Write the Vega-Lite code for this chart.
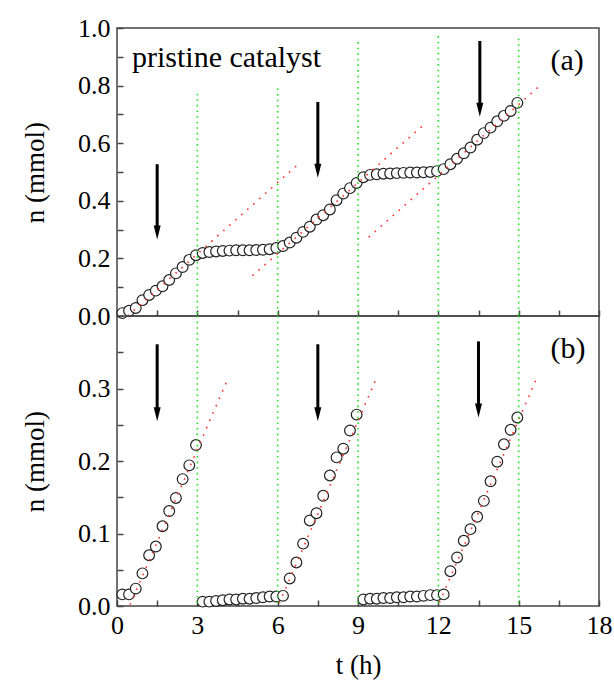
{
  "$schema": "https://vega.github.io/schema/vega-lite/v6.json",
  "background": "white",
  "padding": {"left": 20, "top": 14, "right": 0, "bottom": 10},
  "spacing": 0,
  "bounds": "flush",
  "config": {
    "view": {"stroke": "#444", "strokeWidth": 1.5},
    "font": "Liberation Serif",
    "axis": {
      "labelFont": "Liberation Serif", "labelFontSize": 26, "labelColor": "black",
      "titleFont": "Liberation Serif", "titleFontSize": 27, "titleFontWeight": "normal", "titleColor": "black",
      "tickColor": "#444", "tickSize": -6, "tickWidth": 1.5, "domain": false, "grid": false,
      "labelFlush": false, "labelOverlap": false
    }
  },
  "datasets": {
    "circlesTop": [
      {"t":0.2,"n":0.01},{"t":0.45,"n":0.018},{"t":0.7,"n":0.028},{"t":0.95,"n":0.055},{"t":1.2,"n":0.073},{"t":1.45,"n":0.088},{"t":1.7,"n":0.103},{"t":1.95,"n":0.125},{"t":2.2,"n":0.148},{"t":2.45,"n":0.17},{"t":2.7,"n":0.195},{"t":2.95,"n":0.211},
      {"t":3.2,"n":0.219},{"t":3.45,"n":0.222},{"t":3.7,"n":0.224},{"t":3.95,"n":0.226},{"t":4.2,"n":0.227},{"t":4.45,"n":0.228},{"t":4.7,"n":0.228},{"t":4.95,"n":0.228},{"t":5.2,"n":0.229},{"t":5.45,"n":0.23},{"t":5.7,"n":0.232},{"t":5.95,"n":0.236},
      {"t":6.2,"n":0.243},{"t":6.45,"n":0.255},{"t":6.7,"n":0.272},{"t":6.95,"n":0.292},{"t":7.2,"n":0.31},{"t":7.45,"n":0.335},{"t":7.7,"n":0.35},{"t":7.95,"n":0.37},{"t":8.2,"n":0.402},{"t":8.45,"n":0.425},{"t":8.7,"n":0.444},{"t":8.95,"n":0.462},
      {"t":9.2,"n":0.482},{"t":9.45,"n":0.49},{"t":9.7,"n":0.492},{"t":9.95,"n":0.494},{"t":10.2,"n":0.495},{"t":10.45,"n":0.496},{"t":10.7,"n":0.497},{"t":10.95,"n":0.498},{"t":11.2,"n":0.498},{"t":11.45,"n":0.499},{"t":11.7,"n":0.5},{"t":11.95,"n":0.503},
      {"t":12.2,"n":0.51},{"t":12.45,"n":0.527},{"t":12.7,"n":0.546},{"t":12.95,"n":0.565},{"t":13.2,"n":0.585},{"t":13.45,"n":0.612},{"t":13.7,"n":0.635},{"t":13.95,"n":0.654},{"t":14.2,"n":0.676},{"t":14.45,"n":0.695},{"t":14.7,"n":0.712},{"t":14.95,"n":0.74}
    ],
    "circlesBottom": [
      {"t":0.2,"n":0.016},{"t":0.45,"n":0.016},{"t":0.7,"n":0.024},{"t":0.95,"n":0.045},{"t":1.2,"n":0.07},{"t":1.45,"n":0.082},{"t":1.7,"n":0.11},{"t":1.95,"n":0.131},{"t":2.2,"n":0.149},{"t":2.45,"n":0.175},{"t":2.7,"n":0.194},{"t":2.95,"n":0.222},
      {"t":3.2,"n":0.006},{"t":3.45,"n":0.006},{"t":3.7,"n":0.007},{"t":3.95,"n":0.008},{"t":4.2,"n":0.009},{"t":4.45,"n":0.009},{"t":4.7,"n":0.01},{"t":4.95,"n":0.01},{"t":5.2,"n":0.011},{"t":5.45,"n":0.012},{"t":5.7,"n":0.013},{"t":5.95,"n":0.013},{"t":6.2,"n":0.014},
      {"t":6.45,"n":0.038},{"t":6.7,"n":0.06},{"t":6.95,"n":0.086},{"t":7.2,"n":0.118},{"t":7.45,"n":0.128},{"t":7.7,"n":0.152},{"t":7.95,"n":0.18},{"t":8.2,"n":0.205},{"t":8.45,"n":0.217},{"t":8.7,"n":0.242},{"t":8.95,"n":0.264},
      {"t":9.2,"n":0.009},{"t":9.45,"n":0.01},{"t":9.7,"n":0.01},{"t":9.95,"n":0.011},{"t":10.2,"n":0.011},{"t":10.45,"n":0.012},{"t":10.7,"n":0.012},{"t":10.95,"n":0.013},{"t":11.2,"n":0.013},{"t":11.45,"n":0.014},{"t":11.7,"n":0.015},{"t":11.95,"n":0.015},{"t":12.2,"n":0.016},
      {"t":12.45,"n":0.048},{"t":12.7,"n":0.067},{"t":12.95,"n":0.09},{"t":13.2,"n":0.106},{"t":13.45,"n":0.123},{"t":13.7,"n":0.145},{"t":13.95,"n":0.172},{"t":14.2,"n":0.199},{"t":14.45,"n":0.223},{"t":14.7,"n":0.243},{"t":14.95,"n":0.26}
    ],
    "fitTop": [
      {"t":0.4,"n":0.0,"t2":6.84,"n2":0.533},
      {"t":5.06,"n":0.14,"t2":11.48,"n2":0.666},
      {"t":9.4,"n":0.274,"t2":15.81,"n2":0.801}
    ],
    "fitBottom": [
      {"t":0.49,"n":0.002,"t2":4.09,"n2":0.309},
      {"t":6.06,"n":0.004,"t2":9.64,"n2":0.31},
      {"t":12.04,"n":0.005,"t2":15.65,"n2":0.312}
    ],
    "markersTop": [
      {"t":3,"n":0.772,"n2":0},{"t":6,"n":0.79,"n2":0},{"t":9,"n":0.951,"n2":0},{"t":12,"n":0.972,"n2":0},{"t":15,"n":0.963,"n2":0}
    ],
    "markersBottom": [
      {"t":3,"n":0.4,"n2":0},{"t":6,"n":0.4,"n2":0},{"t":9,"n":0.4,"n2":0},{"t":12,"n":0.4,"n2":0},{"t":15,"n":0.4,"n2":0}
    ],
    "arrowsTop": [
      {"t":1.5,"n":0.527,"n2":0.266},{"t":7.5,"n":0.743,"n2":0.48},{"t":13.55,"n":0.955,"n2":0.692}
    ],
    "arrowsBottom": [
      {"t":1.5,"n":0.361,"n2":0.255},{"t":7.5,"n":0.361,"n2":0.255},{"t":13.5,"n":0.365,"n2":0.26}
    ],
    "labelsTop": [
      {"t":0.56,"n":0.864,"label":"pristine catalyst"},
      {"t":16.19,"n":0.853,"label":"(a)"}
    ],
    "labelsBottom": [
      {"t":16.19,"n":0.342,"label":"(b)"}
    ]
  },
  "vconcat": [
    {
      "width": 482,
      "height": 288,
      "encoding": {
        "x": {"field": "t", "type": "quantitative", "scale": {"domain": [0, 18], "nice": false, "zero": false},
              "axis": {"values": [0,1.5,3,4.5,6,7.5,9,10.5,12,13.5,15,16.5,18], "labels": false, "title": null}},
        "y": {"field": "n", "type": "quantitative", "scale": {"domain": [0, 1], "nice": false},
              "axis": {"values": [0,0.1,0.2,0.3,0.4,0.5,0.6,0.7,0.8,0.9,1.0],
                       "labelExpr": "round(datum.value*10) % 2 == 0 ? format(datum.value, '.1f') : ''",
                       "title": "n (mmol)", "labelPadding": 13, "titlePadding": 28}}
      },
      "layer": [
        {
          "data": {"name": "circlesTop"},
          "mark": {"type": "point", "shape": "circle", "fill": "white", "stroke": "#222", "strokeWidth": 1.2, "size": 115, "opacity": 1}
        },
        {
          "data": {"name": "fitTop"},
          "mark": {"type": "rule", "color": "#ff3030", "strokeWidth": 1.6, "strokeDash": [1.6, 6.4]},
          "encoding": {"x2": {"field": "t2"}, "y2": {"field": "n2"}}
        },
        {
          "data": {"name": "markersTop"},
          "mark": {"type": "rule", "color": "#22e022", "strokeWidth": 1.6, "strokeDash": [1.6, 4]},
          "encoding": {"y2": {"field": "n2"}}
        },
        {
          "data": {"name": "arrowsTop"},
          "mark": {"type": "rule", "color": "black", "strokeWidth": 3, "y2Offset": -8},
          "encoding": {"y2": {"field": "n2"}}
        },
        {
          "data": {"name": "arrowsTop"},
          "mark": {"type": "point", "shape": "M-0.5,-2L0.5,-2L0,0Z", "size": 196, "filled": true, "color": "black", "opacity": 1, "strokeWidth": 0},
          "encoding": {"y": {"field": "n2", "type": "quantitative"}}
        },
        {
          "data": {"name": "labelsTop"},
          "mark": {"type": "text", "align": "left", "baseline": "alphabetic", "fontSize": 30, "font": "Liberation Serif", "color": "black"},
          "encoding": {"text": {"field": "label"}}
        }
      ]
    },
    {
      "width": 482,
      "height": 290,
      "encoding": {
        "x": {"field": "t", "type": "quantitative", "scale": {"domain": [0, 18], "nice": false, "zero": false},
              "axis": {"values": [0,1.5,3,4.5,6,7.5,9,10.5,12,13.5,15,16.5,18],
                       "labelExpr": "datum.value % 3 == 0 ? datum.label : ''",
                       "title": "t (h)", "labelPadding": 12, "titlePadding": 14}},
        "y": {"field": "n", "type": "quantitative", "scale": {"domain": [0, 0.4], "nice": false},
              "axis": {"values": [0,0.05,0.1,0.15,0.2,0.25,0.3,0.35,0.4],
                       "labelExpr": "(round(datum.value*20) % 2 == 0 && datum.value < 0.35) ? format(datum.value, '.1f') : ''",
                       "title": "n (mmol)", "labelPadding": 13, "titlePadding": 28}}
      },
      "layer": [
        {
          "data": {"name": "circlesBottom"},
          "mark": {"type": "point", "shape": "circle", "fill": "white", "stroke": "#222", "strokeWidth": 1.2, "size": 115, "opacity": 1}
        },
        {
          "data": {"name": "fitBottom"},
          "mark": {"type": "rule", "color": "#ff3030", "strokeWidth": 1.6, "strokeDash": [1.6, 6.4]},
          "encoding": {"x2": {"field": "t2"}, "y2": {"field": "n2"}}
        },
        {
          "data": {"name": "markersBottom"},
          "mark": {"type": "rule", "color": "#22e022", "strokeWidth": 1.6, "strokeDash": [1.6, 4]},
          "encoding": {"y2": {"field": "n2"}}
        },
        {
          "data": {"name": "arrowsBottom"},
          "mark": {"type": "rule", "color": "black", "strokeWidth": 3, "y2Offset": -8},
          "encoding": {"y2": {"field": "n2"}}
        },
        {
          "data": {"name": "arrowsBottom"},
          "mark": {"type": "point", "shape": "M-0.5,-2L0.5,-2L0,0Z", "size": 196, "filled": true, "color": "black", "opacity": 1, "strokeWidth": 0},
          "encoding": {"y": {"field": "n2", "type": "quantitative"}}
        },
        {
          "data": {"name": "labelsBottom"},
          "mark": {"type": "text", "align": "left", "baseline": "alphabetic", "fontSize": 30, "font": "Liberation Serif", "color": "black"},
          "encoding": {"text": {"field": "label"}}
        }
      ]
    }
  ]
}
